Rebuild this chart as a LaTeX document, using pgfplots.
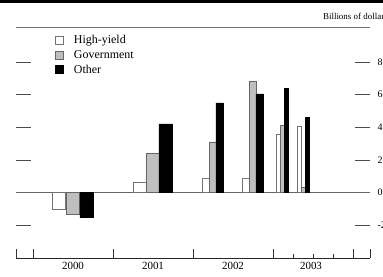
\documentclass[border=0pt]{standalone}
\usepackage{pgfplots}
\pgfplotsset{compat=1.18}
\usepackage{fontspec}
\setmainfont{Liberation Serif}
\begin{document}
\begin{tikzpicture}[x=1bp,y=1bp]
\begin{axis}[
  at={(16bp,19bp)}, anchor=south west,
  scale only axis, width=354bp, height=231bp,
  xmin=1999.7875, xmax=2004.2125, ymin=-4.02, ymax=10.15,
  clip=false,
  axis line style={draw=none},
  ybar, bar shift=0pt,
  /pgf/number format/assume math mode=true,
  tick align=inside,
  ytick={-2,0,2,4,6,8},
  ytick pos=both, yticklabel pos=right,
  ytick style={black!70, line width=0.6bp, /pgfplots/major tick length=15bp},
  yticklabel style={font=\fontsize{10}{12}\selectfont, xshift=4bp},
  xtick={1999.7875,2000,2001,2002,2003,2004,2004.2125},
  xticklabels={,,,,,,},
  minor xtick={2003.25,2003.5,2003.75},
  xtick pos=bottom,
  xtick style={black!80, line width=0.6bp, /pgfplots/major tick length=9bp, /pgfplots/minor tick length=4bp},
  extra x ticks={2000.5,2001.5,2002.5,2003.475},
  extra x tick labels={2000,2001,2002,2003},
  extra x tick style={xtick style={draw=none}, xticklabel style={font=\fontsize{11}{12}\selectfont, yshift=-1bp}},
  legend style={at={(0.11,0.966)}, anchor=north west, draw=none, fill=none,
    font=\fontsize{12}{13}\selectfont, row sep=4bp, inner sep=0pt,
    nodes={inner sep=0.5bp}},
  legend cell align=left,
  legend image code/.code={\draw[#1] (0bp,-4bp) rectangle (8bp,4bp); \path[draw=none] (18bp,0bp) circle (0.1bp);},
]
\draw[black!55, line width=0.5bp] (rel axis cs:0,1) -- (rel axis cs:1,1);
\draw[black!85, line width=0.7bp] (rel axis cs:0,0) -- (rel axis cs:1,0);
\draw[black!60, line width=0.5bp] (axis cs:1999.7875,0) -- (axis cs:2004.2125,0);

% High-yield
\addplot[draw=black!55, fill=white, line width=0.5bp, bar width=0.168] coordinates {(2000.325,-1.05) (2001.331,0.6)};
\addlegendentry{High-yield}
% Government
\addplot[draw=black!60, fill=black!25, line width=0.5bp, bar width=0.168] coordinates {(2000.5,-1.35) (2001.494,2.4)};
\addlegendentry{Government}
% Other
\addplot[draw=black, fill=black, line width=0.5bp, bar width=0.168] coordinates {(2000.669,-1.55) (2001.656,4.2)};
\addlegendentry{Other}

\addplot[forget plot, draw=black!55, fill=white, line width=0.5bp, bar width=0.0875] coordinates {(2002.1625,0.85) (2002.6625,0.9)};
\addplot[forget plot, draw=black!60, fill=black!25, line width=0.5bp, bar width=0.0875] coordinates {(2002.244,3.1) (2002.744,6.85)};
\addplot[forget plot, draw=black, fill=black, line width=0.5bp, bar width=0.0875] coordinates {(2002.331,5.5) (2002.831,6.05)};

\addplot[forget plot, draw=black!55, fill=white, line width=0.5bp, bar width=0.05] coordinates {(2003.069,3.55) (2003.325,4.05)};
\addplot[forget plot, draw=black!60, fill=black!25, line width=0.5bp, bar width=0.05] coordinates {(2003.119,4.1) (2003.375,0.3)};
\addplot[forget plot, draw=black, fill=black, line width=0.5bp, bar width=0.05] coordinates {(2003.169,6.4) (2003.425,4.6)};
\end{axis}
\draw[black, line width=2.5bp] (0bp,275.5bp) -- (383bp,275.5bp);
\node[anchor=east, font=\fontsize{9}{10}\selectfont, inner sep=0pt] at (388bp,261bp) {Billions of dollars};
\pgfresetboundingbox
\useasboundingbox (0bp,0bp) rectangle (383bp,277bp);
\end{tikzpicture}
\end{document}
